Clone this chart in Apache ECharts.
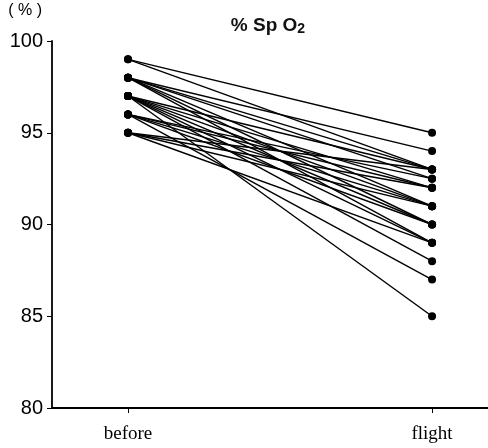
<!DOCTYPE html>
<html>
<head>
<meta charset="utf-8">
<script src="https://cdn.jsdelivr.net/npm/echarts@6/dist/echarts.min.js"></script>
<style>
  html, body { margin: 0; padding: 0; background: #fff; }
  #chart { width: 488px; height: 448px; }
</style>
</head>
<body>
<div id="chart"></div>
<script>
const phases = ['before', 'flight'];
const yTicks = [80, 85, 90, 95, 100];

// SpO2 per subject
const beforeVals = [99, 99, 98, 98, 98, 98, 98, 98, 97, 97, 97, 97, 97, 97, 97, 96, 96, 96, 96, 96, 95, 95, 95, 95];
const flightVals = [95, 93, 94, 93, 92.5, 91, 90, 89, 93, 92, 91, 90, 89, 88, 85, 92.5, 92, 91, 90, 87, 93, 92, 91, 89];

const chart = echarts.init(document.getElementById('chart'));

const series = beforeVals.map(function (b, i) {
  return {
    type: 'line',
    data: [[0, b], [1, flightVals[i]]],
    symbol: 'circle',
    symbolSize: 8,
    itemStyle: { color: '#000' },
    lineStyle: { color: '#000', width: 1.4 },
    animation: false,
    silent: true
  };
});

chart.setOption({
  backgroundColor: '#fff',
  title: {
    text: '{a|% Sp O}{s|2}',
    left: 263,
    textAlign: 'center',
    top: 10,
    textStyle: {
      rich: {
        a: { fontFamily: 'Liberation Sans', fontSize: 19, fontWeight: 'bold', color: '#111' },
        s: { fontFamily: 'Liberation Sans', fontSize: 14, fontWeight: 'bold', color: '#111', padding: [7, 0, 0, 0] }
      }
    }
  },
  grid: { left: 52, right: 0, top: 41, bottom: 40 },
  xAxis: {
    type: 'value',
    min: -0.25,
    max: 1.184,
    splitLine: { show: false },
    axisLine: { onZero: false, lineStyle: { color: '#000', width: 1.8 } },
    axisTick: { customValues: [0, 1], length: 5, lineStyle: { color: '#000' } },
    axisLabel: {
      customValues: [0, 1],
      formatter: function (v) { return phases[Math.round(v)]; },
      fontFamily: 'Liberation Serif',
      fontSize: 19,
      color: '#000',
      margin: 17
    }
  },
  yAxis: {
    type: 'value',
    name: '( % )',
    nameLocation: 'end',
    nameGap: 22,
    nameTextStyle: { fontFamily: 'Liberation Sans', fontSize: 16, color: '#000', align: 'right', padding: [0, 10, 0, 0] },
    min: yTicks[0],
    max: yTicks[yTicks.length - 1],
    interval: 5,
    splitLine: { show: false },
    axisLine: { show: true, onZero: false, lineStyle: { color: '#000', width: 1.8 } },
    axisTick: { show: true, length: 5, lineStyle: { color: '#000' } },
    axisLabel: { fontFamily: 'Liberation Sans', fontSize: 20, color: '#000', margin: 9 }
  },
  series: series
});
</script>
</body>
</html>
